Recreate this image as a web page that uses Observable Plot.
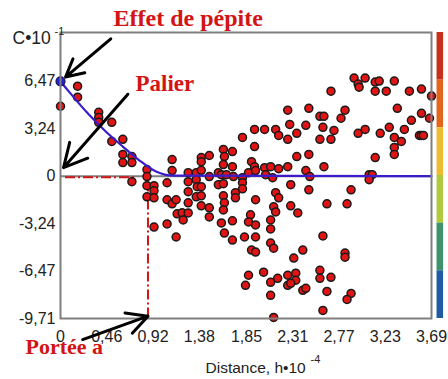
<!DOCTYPE html>
<html><head><meta charset="utf-8">
<script src="https://cdn.jsdelivr.net/npm/d3@7"></script>
<script src="https://cdn.jsdelivr.net/npm/@observablehq/plot@0.6"></script>
<style>html,body{margin:0;padding:0;background:#fff;}</style>
</head><body><div id="chart"></div>
<script>
// Experimental semivariogram points [distance (h·10^-4), C·10^-1]
const experimental = [
[0.17,6.14],[0.17,5.39],[0,4.77],
[0.38,4.36],[0.38,4.01],[0.38,3.67],[0.51,3.67],[0.51,2.37],
[0.62,2.51],[0.62,1.48],[0.62,0.93],[0.71,1.34],[0.71,0.93],[0.71,-0.38],
[0.86,0.45],[0.86,-0.03],[0.86,-0.65],[0.86,-1.41],
[0.93,-0.65],[0.93,-1.00],[0.93,-1.48],[0.93,-3.47],
[1.06,-0.45],[1.06,-1.61],[1.06,-3.26],
[1.11,1.13],[1.11,0.38],[1.11,-1.89],
[1.15,-4.15],[1.16,-2.57],[1.21,-2.50],[1.15,-1.61],[1.22,-2.99],
[1.27,0.24],[1.27,-0.38],[1.27,-1.06],[1.27,-1.82],[1.27,-2.51],
[2.26,4.50],[2.47,4.63],[2.28,3.53],[2.44,3.47],[1.81,2.64],[1.93,3.19],[2.03,3.19],[2.14,3.19],
[2.17,2.78],[2.26,2.51],[2.35,2.92],[1.93,2.02],[2.47,1.48],[2.35,1.34],[1.62,1.82],[1.71,1.68],
[1.63,1.34],[1.48,1.41],[1.40,1.27],[1.40,0.99],[1.62,0.79],[1.71,0.65],[1.90,0.99],[1.93,0.65],
[2.03,0.58],[2.09,0.65],[2.17,0.51],[2.26,0.65],[2.44,0.38],[1.35,0.24],[1.40,0.40],[1.48,-0.03],
[1.57,0.24],[1.60,0.10],[1.65,0.10],[1.72,-0.03],[1.81,-0.10],[1.87,0.24],[1.94,0.38],[2.04,0.10],
[2.11,-0.10],[1.81,-0.45],[1.81,-0.86],[1.57,-0.58],[1.62,-0.51],[1.35,-0.24],[1.36,-0.72],[1.40,-0.72],
[1.35,-1.41],[1.40,-1.34],[1.74,-1.13],[1.74,-1.48],[1.94,-1.61],[2.29,-0.58],[2.47,-0.93],[2.14,-1.13],
[2.17,-1.48],[1.62,-1.34],[1.63,-1.82],[1.62,-2.30],[1.40,-2.02],[1.48,-2.16],[1.48,-2.78],[2.29,-2.02],
[2.36,-2.51],[2.12,-2.09],[2.14,-2.44],[1.89,-2.64],[1.87,-3.12],[1.94,-3.33],[2.09,-2.99],[2.09,-3.60],
[1.60,-3.19],[1.63,-3.88],[1.71,-3.05],[1.71,-4.36],[1.83,-4.15],[1.94,-4.15],[1.90,-5.04],[1.94,-5.18],
[2.09,-4.56],[2.12,-4.91],[2.41,-5.04],[2.32,-5.59],[1.87,-6.76],[1.84,-7.45],[2.02,-6.55],[2.09,-7.24],
[2.09,-8.13],[2.16,-6.97],[2.26,-6.76],[2.26,-7.45],[2.34,-6.62],[2.34,-7.10],[2.29,-7.31],[2.41,-7.79],
[2.44,-7.65],[2.12,-9.64],
[2.92,6.69],[2.96,6.28],[2.97,6.07],[3.03,6.69],[3.13,6.42],[3.17,6.49],[3.13,5.80],[3.24,5.80],
[3.32,6.49],[3.47,5.80],[3.59,5.94],[3.69,5.46],[2.69,5.80],
[2.58,4.08],[2.62,4.08],[2.61,3.33],[2.58,2.51],[2.72,3.12],[2.69,2.51],[2.79,3.95],[2.83,4.50],
[2.96,2.92],[3.03,3.19],[3.18,2.92],[3.27,3.33],[3.32,2.64],[3.39,2.37],[3.35,4.63],[3.42,3.19],
[3.49,3.81],[3.59,4.29],[3.67,3.95],[3.57,2.78],[3.59,2.78],[3.61,2.78],[3.32,1.96],[3.32,1.48],[3.13,1.27],
[2.62,0.65],[2.48,-0.03],[3.07,0.10],[3.10,0.10],[3.07,-0.24],[2.89,-0.93],[2.65,-1.89],[2.85,-1.89],
[2.61,-4.08],[2.83,-5.25],[2.83,-5.53],[2.58,-6.42],[2.58,-6.97],[2.69,-6.90],[2.65,-7.86],[2.89,-8.00],
[2.85,-8.41],[2.61,-9.16]
];

// Fitted model curve
const modelDist  = [0, 0.08, 0.28, 0.45, 0.62, 0.78, 0.95, 1.12, 3.69];
const modelValue = [6.47, 5.80, 4.22, 3.05, 2.02, 1.10, 0.31, 0.03, 0];

const nugget = 6.47;
const rangeA = 0.87;

const xTicks = [0, 0.46, 0.92, 1.38, 1.85, 2.31, 2.77, 3.23, 3.69];
const xTickLabels = ["0", "0,46", "0,92", "1,38", "1,85", "2,31", "2,77", "3,23", "3,69"];
const yTicks = [6.47, 3.24, 0, -3.24, -6.47, -9.71];
const yTickLabels = ["6,47", "3,24", "0", "-3,24", "-6,47", "-9,71"];
const yDomain = [-9.71, 9.8];

const barColors = ["#c9301a", "#e2661d", "#efbc30", "#b1c93f", "#3d936a", "#1f5aa3"];

const points = experimental.map(([x, y]) => ({x, y}));
const model = modelDist.map((x, i) => ({x, y: modelValue[i]}));
const xLab = new Map(xTicks.map((t, i) => [t, xTickLabels[i]]));
const yLab = new Map(yTicks.map((t, i) => [t, yTickLabels[i]]));

const segH = (yDomain[1] - yDomain[0]) / barColors.length;
const bar = barColors.map((c, i) => ({c, y2: yDomain[1] - i * segH, y1: yDomain[1] - (i + 1) * segH}));

const arrows = [
  {x1: 0.50, y1: 9.37, x2: 0.05, y2: 6.76},
  {x1: 0.67, y1: 5.59, x2: 0.03, y2: 0.58},
  {x1: 0.22, y1: -11.15, x2: rangeA, y2: -9.55}
];

const red = "#d21414";
const serif = "'Liberation Serif', 'Times New Roman', serif";

const chart = Plot.plot({
  width: 448, height: 379,
  marginTop: 32, marginBottom: 61, marginLeft: 60, marginRight: 17,
  style: {fontFamily: "'Liberation Sans', Arial, sans-serif", fontSize: "16px", color: "#222", background: "white", overflow: "visible"},
  x: {domain: [0, 3.69], ticks: xTicks, tickFormat: d => xLab.get(d), tickSize: 0, tickPadding: 12, label: null},
  y: {domain: yDomain, ticks: yTicks, tickFormat: d => yLab.get(d), tickSize: 0, tickPadding: 5, label: null},
  marks: [
    Plot.ruleY([0], {stroke: "#7f7f7f", strokeWidth: 2}),
    Plot.ruleY([{y: -0.08, x1: 0.05, x2: 0.76}], {y: "y", x1: "x1", x2: "x2", stroke: red, strokeWidth: 2, strokeDasharray: "10,3,2,3"}),
    Plot.ruleX([{x: rangeA, y1: -0.4, y2: -9.71}], {x: "x", y1: "y1", y2: "y2", stroke: red, strokeWidth: 2, strokeDasharray: "10,3,2,3"}),
    Plot.dot(points, {x: "x", y: "y", r: 4, fill: "#e01414", stroke: "#1a1a1a", strokeWidth: 1.5}),
    Plot.line(model, {x: "x", y: "y", stroke: "#3a1ccc", strokeWidth: 2.2, curve: "monotone-x"}),
    Plot.dot([{x: 0, y: nugget}], {x: "x", y: "y", r: 4.5, fill: "#2a22c8", stroke: "#10105a", strokeWidth: 1.2}),
    Plot.frame({stroke: "#7f7f7f", strokeWidth: 2}),
    Plot.rect(bar, {x1: () => 3.745, x2: () => 3.81, y1: "y1", y2: "y2", fill: "c"}),
    Plot.arrow(arrows, {x1: "x1", y1: "y1", x2: "x2", y2: "y2", stroke: "black", strokeWidth: 3, headLength: 13, headAngle: 55}),
    Plot.text(["C•10"], {frameAnchor: "top-left", dx: -48, dy: 11, textAnchor: "start", lineAnchor: "bottom", fontSize: 17.5}),
    Plot.text(["-1"], {frameAnchor: "top-left", dx: -6, dy: 2, textAnchor: "start", lineAnchor: "bottom", fontSize: 11}),
    Plot.text(["Distance, h•10"], {frameAnchor: "bottom-left", dx: 145, dy: 54, textAnchor: "start", lineAnchor: "bottom", fontSize: 15.5}),
    Plot.text(["-4"], {frameAnchor: "bottom-left", dx: 250, dy: 44, textAnchor: "start", lineAnchor: "bottom", fontSize: 11}),
    Plot.text(["Effet de pépite"], {frameAnchor: "top-left", dx: 53, dy: -7, textAnchor: "start", lineAnchor: "bottom", fontSize: 24, fontWeight: "bold", fontFamily: serif, fill: red}),
    Plot.text(["Palier"], {frameAnchor: "top-left", dx: 75, dy: 58, textAnchor: "start", lineAnchor: "bottom", fontSize: 23, fontWeight: "bold", fontFamily: serif, fill: red}),
    Plot.text(["Portée a"], {frameAnchor: "bottom-left", dx: -35, dy: 35, textAnchor: "start", lineAnchor: "bottom", fontSize: 22, fontWeight: "bold", fontFamily: serif, fill: red})
  ]
});
document.getElementById("chart").append(chart);
</script>
</body></html>
